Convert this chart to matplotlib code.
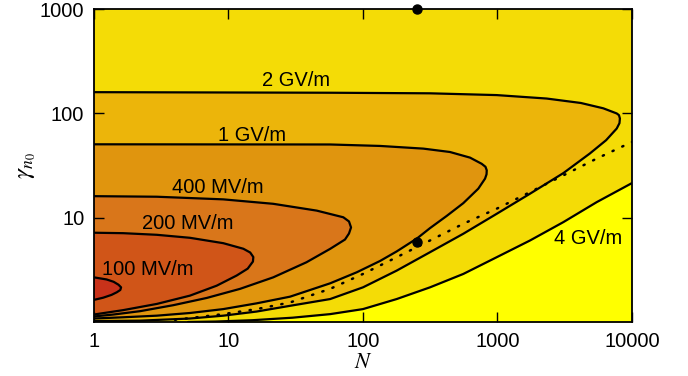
import numpy as np
import matplotlib.pyplot as plt
from matplotlib.ticker import FixedLocator, FixedFormatter, NullLocator

plt.rcParams['font.family'] = ['Liberation Sans', 'DejaVu Sans']
plt.rcParams['mathtext.fontset'] = 'stix'

# contour lines: (N, gamma_n0) along each line
n_100 = [1, 1.24, 1.40, 1.52, 1.59, 1.57, 1.48, 1.35, 1.17, 1]
g_100 = [2.68, 2.56, 2.43, 2.28, 2.15, 2.03, 1.93, 1.82, 1.71, 1.63]

n_200 = [1, 1.65, 2.93, 5.17, 9.15, 12.9, 14.5, 15.3, 15.2, 13.9, 11.5, 8.17, 5.17, 2.93, 1.65, 1]
g_200 = [7.18, 7.11, 6.86, 6.42, 5.70, 5.04, 4.64, 4.20, 3.80, 3.25, 2.79, 2.23, 1.79, 1.49, 1.30, 1.18]

n_400 = [1, 2.93, 9.15, 21.5, 45.3, 71.4, 78.7, 81.5, 78.7, 73.5, 57, 38, 21.5, 12.2, 6.88, 3.89, 2.2, 1.4, 1]
g_400 = [16.1, 15.9, 15.0, 13.6, 11.7, 10.1, 9.21, 8.07, 7.06, 6.18, 5.03, 3.74, 2.68, 2.08, 1.70, 1.45, 1.27,
         1.18, 1.13]

n_1g = [1, 57, 134, 281, 443, 625, 763, 814, 832, 829, 808, 720, 557, 419, 315, 253, 178, 134, 90, 57,
        28.7, 16.2, 9.15, 5.17, 2.93, 1.65, 1]
g_1g = [50.6, 50.4, 48.8, 46.0, 42.7, 37.7, 32.9, 30.8, 28.5, 26.1, 23.7, 19.0, 13.8, 10.4, 7.95, 6.35, 4.75,
        3.85, 3.0, 2.35, 1.75, 1.51, 1.33, 1.22, 1.15, 1.11, 1.08]

n_2g = [1, 57, 315, 986, 2320, 4170, 6120, 7700, 8000, 8130, 8070, 7700, 6420, 4860, 3090, 1745, 986, 557, 315,
        178, 100, 57, 28.7, 16.2, 9.15, 5.17, 2.2, 1]
g_2g = [160, 158, 156, 150, 139, 126, 112, 100, 96.3, 89.5, 80.7, 71.7, 55.4, 41.3, 26.8, 17.0, 10.9, 7.02, 4.67,
        3.11, 2.15, 1.66, 1.43, 1.26, 1.15, 1.08, 1.03, 1.02]

n_4g = [5, 8, 15, 30, 57, 100, 178, 315, 557, 986, 1745, 3090, 5460, 10000]
g_4g = [1.0, 1.01, 1.04, 1.10, 1.19, 1.33, 1.66, 2.15, 2.89, 4.18, 6.05, 9.08, 14.1, 21.5]

n_dot = [4, 5.17, 9.15, 16.2, 28.7, 57, 100, 178, 315, 557, 986, 1745, 3090, 5460, 10000]
g_dot = [1.05, 1.09, 1.19, 1.33, 1.54, 2.08, 2.89, 4.18, 6.05, 8.75, 12.2, 17.6, 25.5, 36.9, 53.3]

pts_n = [251, 251]
pts_g = [1000, 5.88]

labels = ['100 MV/m', '200 MV/m', '400 MV/m', '1 GV/m', '2 GV/m', '4 GV/m']
lab_n = [2.5, 5.0, 8.28, 15.0, 32.0, 4710]
lab_g = [3.16, 8.87, 19.7, 61.9, 205, 6.37]

fig = plt.figure(figsize=(6.88, 3.76), dpi=100)
ax = fig.add_axes([0.1366, 0.1436, 0.782, 0.832])
ax.set_xscale('log')
ax.set_yscale('log')
ax.set_facecolor('#F4DC06')

ax.fill_between(n_4g, g_4g, 1, color='#FFFF00', lw=0)
ax.fill(n_2g, g_2g, color='#ECB50A', lw=0)
ax.fill(n_1g, g_1g, color='#E0950E', lw=0)
ax.fill(n_400, g_400, color='#D9761A', lw=0)
ax.fill(n_200, g_200, color='#D05518', lw=0)
ax.fill(n_100, g_100, color='#C8321A', lw=0)

for n, g in [(n_100, g_100), (n_200, g_200), (n_400, g_400), (n_1g, g_1g), (n_2g, g_2g), (n_4g, g_4g)]:
    ax.plot(n, g, color='k', lw=1.6, solid_joinstyle='round', solid_capstyle='round')
ax.plot(n_dot, g_dot, color='k', lw=1.8, linestyle=(0, (0.5, 3.8)), dash_capstyle='round')

ax.plot(pts_n, pts_g, 'o', color='k', ms=6.5, clip_on=False, zorder=5)

for t, x, y in zip(labels, lab_n, lab_g):
    ax.text(x, y, t, fontsize=14.5, ha='center', va='center')

ax.set_xlim(1, 10000)
ax.set_ylim(1, 1000)
ax.xaxis.set_major_locator(FixedLocator([1, 10, 100, 1000, 10000]))
ax.xaxis.set_major_formatter(FixedFormatter(['1', '10', '100', '1000', '10000']))
ax.yaxis.set_major_locator(FixedLocator([10, 100, 1000]))
ax.yaxis.set_major_formatter(FixedFormatter(['10', '100', '1000']))
ax.xaxis.set_minor_locator(NullLocator())
ax.yaxis.set_minor_locator(NullLocator())
ax.tick_params(direction='in', length=7, width=1, top=True, right=True, labelsize=14.5, pad=7)
for s in ax.spines.values():
    s.set_linewidth(1.3)

ax.set_xlabel(r'$N$', fontsize=16, labelpad=1)
ax.set_ylabel(r'$\gamma_{n_0}$', fontsize=18, labelpad=1)

fig.savefig('out.png', dpi=100)
